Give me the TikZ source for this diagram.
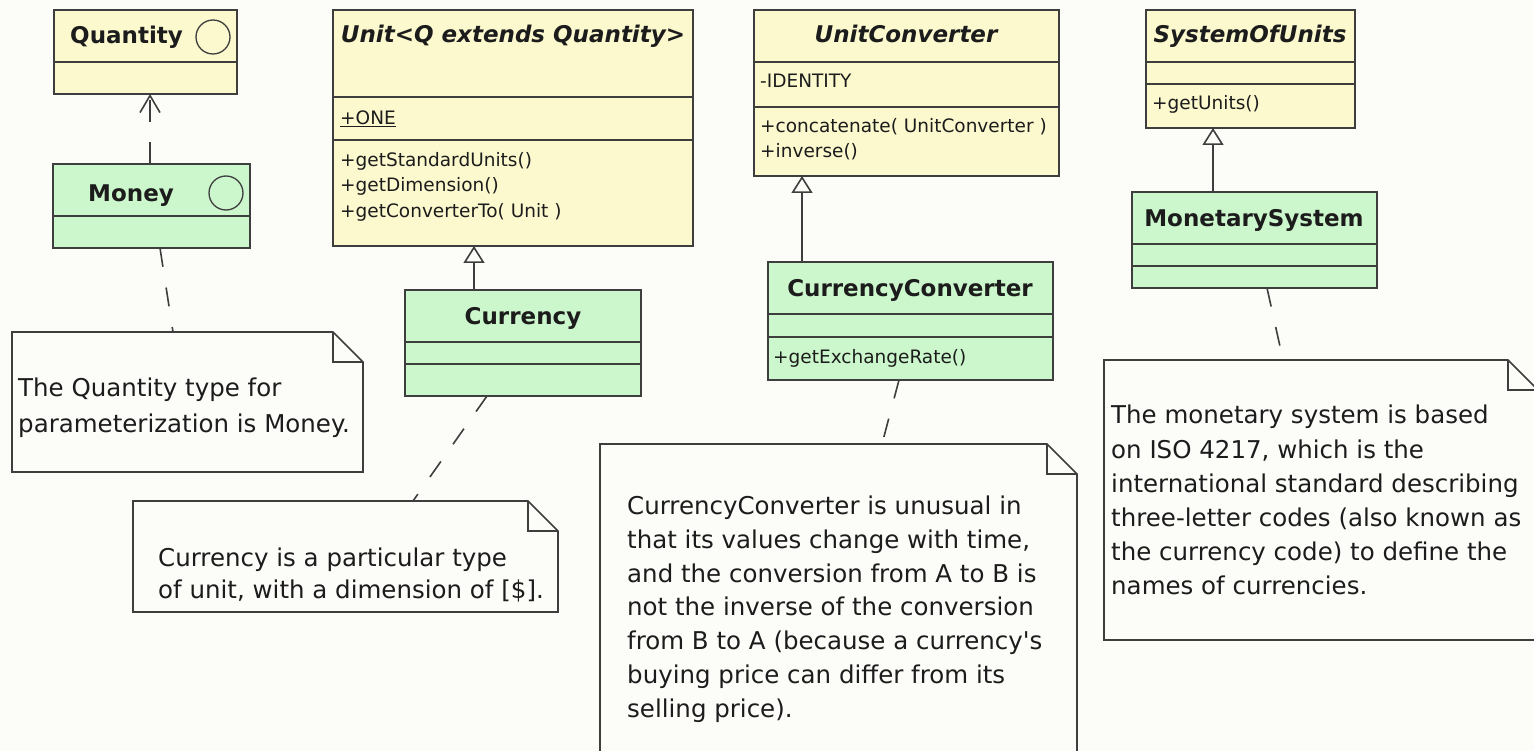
\documentclass[tikz,border=0pt]{standalone}
\usepackage{fontspec}
\newfontfamily\dv{DejaVu Sans}[BoldFont={DejaVu Sans Bold},ItalicFont={DejaVu Sans Oblique},BoldItalicFont={DejaVu Sans Bold Oblique}]
\usetikzlibrary{arrows.meta,calc}
\definecolor{yelc}{RGB}{251,249,205}
\definecolor{grnc}{RGB}{204,247,204}
\definecolor{linec}{RGB}{62,62,62}
\definecolor{bgc}{RGB}{252,252,249}
\definecolor{txtc}{RGB}{28,28,28}
\newcommand{\dognote}[1]{%
  \draw[noteline] (#1.north west) -- ([xshift=-30pt]#1.north east) -- ([yshift=-30pt]#1.north east) -- (#1.south east) -- (#1.south west) -- cycle;
  \draw[noteline, fill=none] ([xshift=-30pt]#1.north east) -- ([xshift=-30pt,yshift=-30pt]#1.north east) -- ([yshift=-30pt]#1.north east);}
\begin{document}
\begin{tikzpicture}[x=1pt,y=-1pt,
  yelbox/.style={draw=linec, fill=yelc, line width=1.6pt, rectangle, inner sep=0pt, outer sep=0pt, anchor=north west},
  grnbox/.style={yelbox, fill=grnc},
  divider/.style={draw=linec, line width=1.6pt},
  ttl/.style={font=\dv\bfseries\fontsize{23}{26}\selectfont, inner sep=0pt, anchor=base, text=txtc},
  ittl/.style={ttl, font=\dv\bfseries\itshape\fontsize{23}{26}\selectfont},
  mem/.style={font=\dv\fontsize{18.5}{25.5}\selectfont, inner sep=0pt, anchor=base west, text=txtc},
  notetxt/.style={inner sep=0pt, anchor=north west, align=left, text=txtc},
  notebox/.style={rectangle, inner sep=0pt, outer sep=0pt, anchor=north west},
  noteline/.style={draw=linec, line width=1.6pt, fill=bgc, line join=miter},
  link/.style={draw=linec, line width=1.6pt, dash pattern=on 19pt off 21pt},
  gen/.style={draw=linec, line width=1.6pt, -{Triangle[open, length=17pt, width=21pt]}},
  dep/.style={draw=linec, line width=1.6pt, dash pattern=on 22pt off 20pt, -{Straight Barb[length=17pt, width=20pt]}},
  iface/.style={circle, draw=linec, line width=1.3pt, minimum size=34pt, inner sep=0pt}
]
\useasboundingbox (0,0) rectangle (1534,751);
\clip (0,0) rectangle (1534,751);
\fill[bgc] (0,0) rectangle (1534,751);

% Quantity
\node[yelbox, minimum width=183pt, minimum height=84pt] (quantity) at (54,10) {};
\draw[divider] (54,62) -- (237,62);
\node[ttl, anchor=base west] (quantityT) at (70,44) {Quantity};
\node[iface] (quantityI) at (213,37) {};

% Money
\node[grnbox, minimum width=197pt, minimum height=84pt] (money) at (53,164) {};
\draw[divider] (53,216) -- (250,216);
\node[ttl, anchor=base west] (moneyT) at (88,202) {Money};
\node[iface] (moneyI) at (226,193) {};

% Unit
\node[yelbox, minimum width=360pt, minimum height=236pt] (unit) at (333,10) {};
\draw[divider] (333,97) -- (693,97);
\draw[divider] (333,140) -- (693,140);
\node[ittl] (unitT) at (513,43) {Unit<Q extends Quantity>};
\node[mem] (unitA) at (340,125) {\underline{+ONE}};
\node[mem] (unitM1) at (340,167) {+getStandardUnits()};
\node[mem] (unitM2) at (340,192) {+getDimension()};
\node[mem] (unitM3) at (340,218) {+getConverterTo( Unit )};

% Currency
\node[grnbox, minimum width=236pt, minimum height=106pt] (currency) at (405,290) {};
\draw[divider] (405,342) -- (641,342);
\draw[divider] (405,364) -- (641,364);
\node[ttl] (currencyT) at (523,325) {Currency};

% UnitConverter
\node[yelbox, minimum width=305pt, minimum height=166pt] (uc) at (754,10) {};
\draw[divider] (754,62) -- (1059,62);
\draw[divider] (754,107) -- (1059,107);
\node[ittl] (ucT) at (906,43) {UnitConverter};
\node[mem] (ucA) at (760,88) {-IDENTITY};
\node[mem] (ucM1) at (760,133) {+concatenate( UnitConverter )};
\node[mem] (ucM2) at (760,158) {+inverse()};

% CurrencyConverter
\node[grnbox, minimum width=285pt, minimum height=118pt] (cc) at (768,262) {};
\draw[divider] (768,314) -- (1053,314);
\draw[divider] (768,337) -- (1053,337);
\node[ttl] (ccT) at (910,297) {CurrencyConverter};
\node[mem] (ccM1) at (773,363) {+getExchangeRate()};

% SystemOfUnits
\node[yelbox, minimum width=209pt, minimum height=118pt] (sou) at (1146,10) {};
\draw[divider] (1146,62) -- (1355,62);
\draw[divider] (1146,84) -- (1355,84);
\node[ittl] (souT) at (1250,43) {SystemOfUnits};
\node[mem] (souM1) at (1152,110) {+getUnits()};

% MonetarySystem
\node[grnbox, minimum width=245pt, minimum height=96pt] (ms) at (1132,192) {};
\draw[divider] (1132,244) -- (1377,244);
\draw[divider] (1132,266) -- (1377,266);
\node[ttl] (msT) at (1254,227) {MonetarySystem};

% Notes
\node[notebox, minimum width=351pt, minimum height=140pt] (note1) at (12,332) {};
\dognote{note1}
\node[notetxt, font=\dv\fontsize{24.5}{36}\selectfont] (note1T) at (18,378) {The Quantity type for\\parameterization is Money.};

\node[notebox, minimum width=425pt, minimum height=111pt] (note2) at (133,501) {};
\dognote{note2}
\node[notetxt, font=\dv\fontsize{24.5}{32}\selectfont] (note2T) at (158,548) {Currency is a particular type\\of unit, with a dimension of [\$].};

\node[notebox, minimum width=477pt, minimum height=330pt] (note3) at (600,444) {};
\dognote{note3}
\node[notetxt, font=\dv\fontsize{24.5}{33.7}\selectfont] (note3T) at (627,496) {CurrencyConverter is unusual in\\that its values change with time,\\and the conversion from A to B is\\not the inverse of the conversion\\from B to A (because a currency's\\buying price can differ from its\\selling price).};

\node[notebox, minimum width=434pt, minimum height=280pt] (note4) at (1104,360) {};
\dognote{note4}
\node[notetxt, font=\dv\fontsize{24.5}{34.2}\selectfont] (note4T) at (1111,405) {The monetary system is based\\on ISO 4217, which is the\\international standard describing\\three-letter codes (also known as\\the currency code) to define the\\names of currencies.};

% Connectors
\draw[dep] ([xshift=-1.5pt]money.north) -- ([xshift=4.5pt]quantity.south);
\draw[gen] ([xshift=-49pt]currency.north) -- ([xshift=-39pt]unit.south);
\draw[gen] ([xshift=-108.5pt]cc.north) -- ([xshift=-104.5pt]uc.south);
\draw[gen] ([xshift=-41.5pt]ms.north) -- ([xshift=-37.5pt]sou.south);
\draw[link] ([xshift=8.5pt]money.south) -- ([xshift=-14.5pt]note1.north);
\draw[link] ([xshift=-36pt]currency.south) -- ([xshift=67.5pt]note2.north);
\draw[link] ([xshift=-11.5pt]cc.south) -- ([xshift=43.5pt]note3.north);
\draw[link] ([xshift=12.5pt]ms.south) -- ([xshift=-38pt]note4.north);
\end{tikzpicture}
\end{document}
